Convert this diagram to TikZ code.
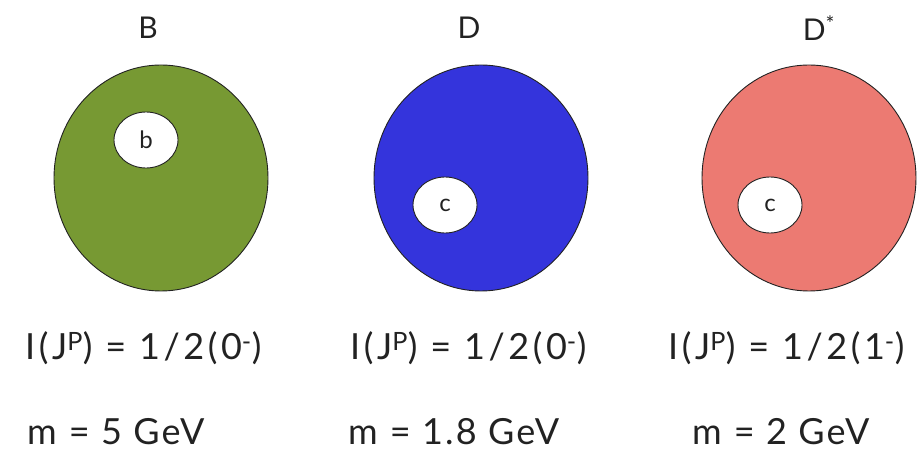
\documentclass[tikz,border=0pt]{standalone}
\usepackage{fontspec}
\setmainfont{Lato}
\newfontfamily\widelato[LetterSpace=10]{Lato}
\newfontfamily\midlato[LetterSpace=6]{Lato}
\usetikzlibrary{shapes.geometric}
\definecolor{bgreen}{HTML}{779933}
\definecolor{dblue}{HTML}{3434DC}
\definecolor{dpink}{HTML}{EC7A72}
\definecolor{ink}{HTML}{222222}
\tikzset{
  meson/.style={ellipse, draw=ink, line width=0.9pt, minimum width=214pt, minimum height=226pt, inner sep=0pt},
  quark/.style={ellipse, draw=ink, fill=white, line width=0.9pt, minimum width=64pt, minimum height=56pt, inner sep=0pt, font=\fontsize{24}{24}\selectfont, text=ink},
  title/.style={font=\fontsize{30}{30}\selectfont, text=ink},
  qnum/.style={anchor=west, font=\widelato\fontsize{36}{36}\selectfont, text=ink, inner sep=0pt},
  qmass/.style={anchor=west, font=\midlato\fontsize{36}{36}\selectfont, text=ink, inner sep=0pt},
}
\begin{document}
\begin{tikzpicture}[x=1pt,y=1pt]
\useasboundingbox (0,0) rectangle (919,463);
% B meson
\node[title] (tB) at (148,435) {B};
\node[meson, fill=bgreen] (mB) at (161,285) {};
\node[quark] (qb) at (146,323) {b};
\node[qnum] (jB) at (25,115) {I(J\textsuperscript{P}) = 1/2(0\textsuperscript{-})};
\node[qmass] (mBm) at (27,31) {m\,\,= 5 GeV};
% D meson
\node[title] (tD) at (469,435) {D};
\node[meson, fill=dblue] (mD) at (481,285) {};
\node[quark] (qc1) at (445,258) {c};
\node[qnum] (jD) at (350,115) {I(J\textsuperscript{P}) = 1/2(0\textsuperscript{-})};
\node[qmass] (mDm) at (348,31) {m\,\,= 1.8 GeV};
% D* meson
\node[title] (tDs) at (819,435) {D\textsuperscript{*}};
\node[meson, fill=dpink] (mDs) at (809,285) {};
\node[quark] (qc2) at (770,258) {c};
\node[qnum] (jDs) at (668,115) {I(J\textsuperscript{P}) = 1/2(1\textsuperscript{-})};
\node[qmass] (mDsm) at (692,31) {m\,\,= 2 GeV};
\end{tikzpicture}
\end{document}
